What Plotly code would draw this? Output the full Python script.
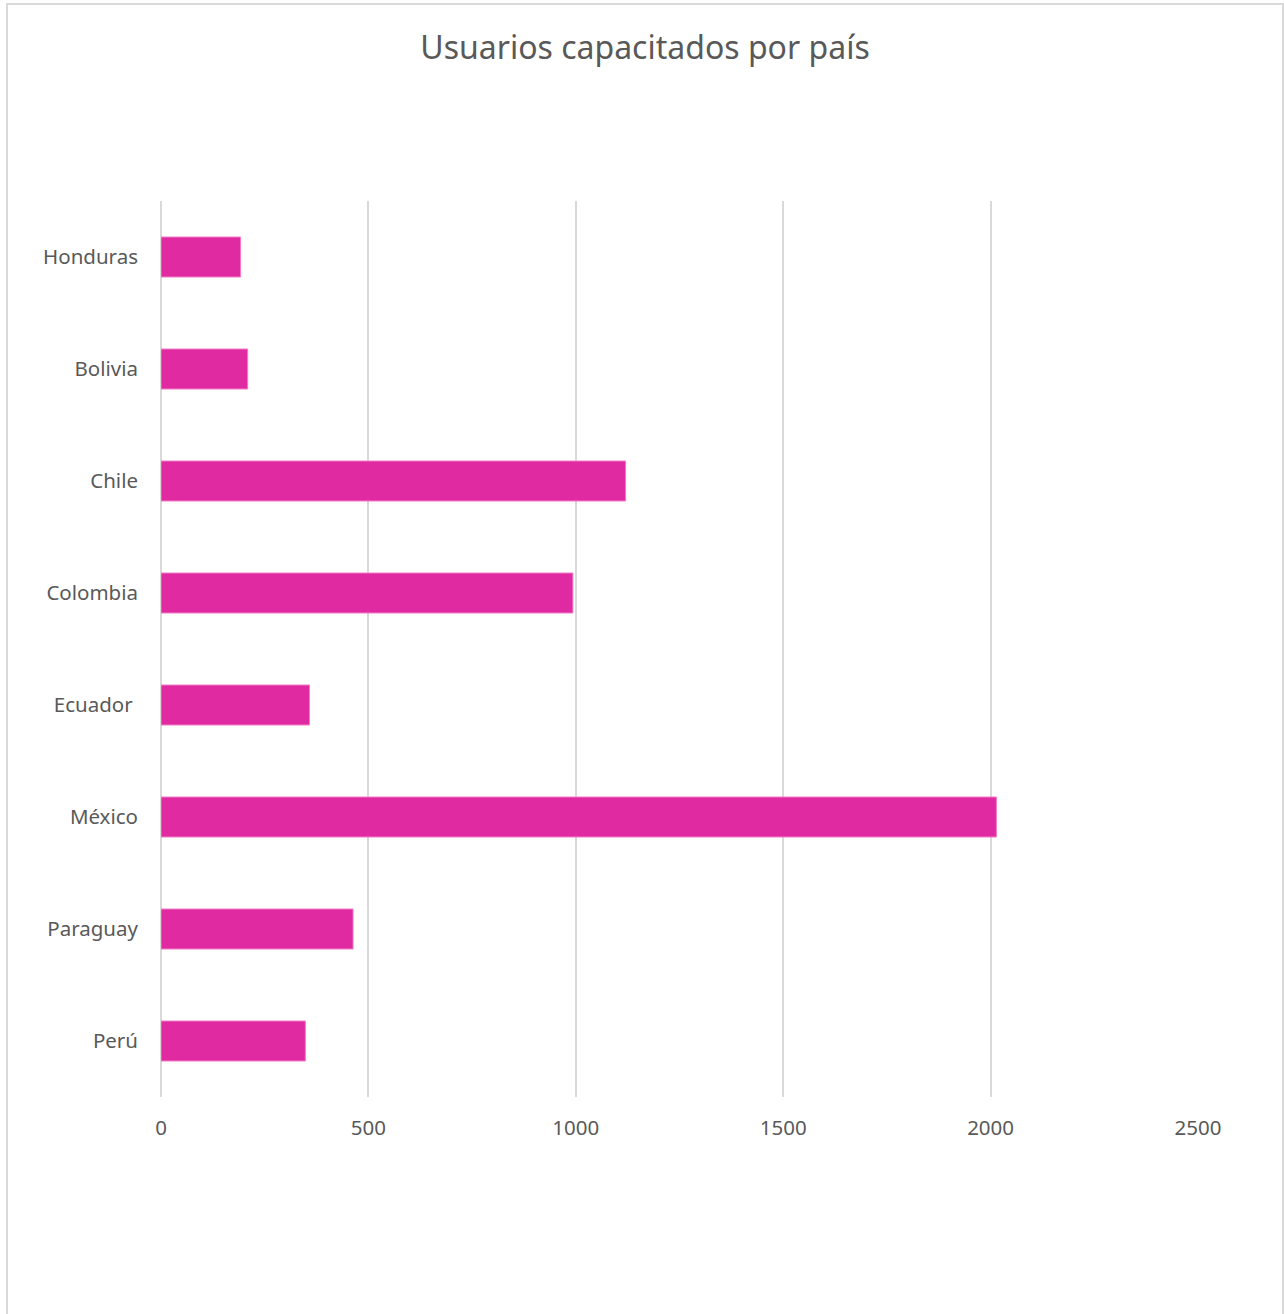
import plotly.graph_objects as go

paises = ["Honduras", "Bolivia", "Chile", "Colombia", "Ecuador\u00a0", "México", "Paraguay", "Perú"]
usuarios = [192, 209, 1120, 993, 358, 2014, 463, 348]
x_ticks = [0, 500, 1000, 1500, 2000, 2500]

W, H = 1284, 1314
L, R, T, B = 161, 86, 201, 217
pw, ph = W - L - R, H - T - B

fig = go.Figure(go.Bar(
    x=usuarios, y=paises, orientation="h",
    marker=dict(color="#E02AA1", line=dict(color="#F07CC6", width=1)),
    width=0.357,
))

def px_to_paper_x(p):
    return (p - L) / pw

def px_to_paper_y(p):
    return (H - B - p) / ph

fig.update_layout(
    width=W, height=H,
    margin=dict(l=L, r=R, t=T, b=B),
    paper_bgcolor="white", plot_bgcolor="white",
    font=dict(family="Noto Sans", color="#595959", size=20.5),
    title=dict(text="Usuarios capacitados por país", x=645 / W, xanchor="center",
               xref="container", y=1 - 48 / H, yanchor="middle", yref="container",
               font=dict(size=32, color="#595959")),
    showlegend=False,
    shapes=[dict(type="rect", xref="paper", yref="paper",
                 x0=px_to_paper_x(7), x1=px_to_paper_x(1283),
                 y0=px_to_paper_y(1330), y1=px_to_paper_y(4),
                 line=dict(color="#D9D9D9", width=2), fillcolor="rgba(0,0,0,0)", layer="below")],
)
fig.update_xaxes(range=[0, 2500], tickvals=x_ticks, showgrid=True, gridcolor="#D9D9D9",
                 gridwidth=1.5, zeroline=True, zerolinecolor="#D9D9D9", zerolinewidth=1.5,
                 showline=False, ticks="", ticklabelstandoff=16, fixedrange=True)
fig.update_yaxes(categoryorder="array", categoryarray=paises[::-1], autorange=True,
                 showgrid=False, showline=False, ticks="", ticklabelstandoff=22)

fig.write_html("out.html")
